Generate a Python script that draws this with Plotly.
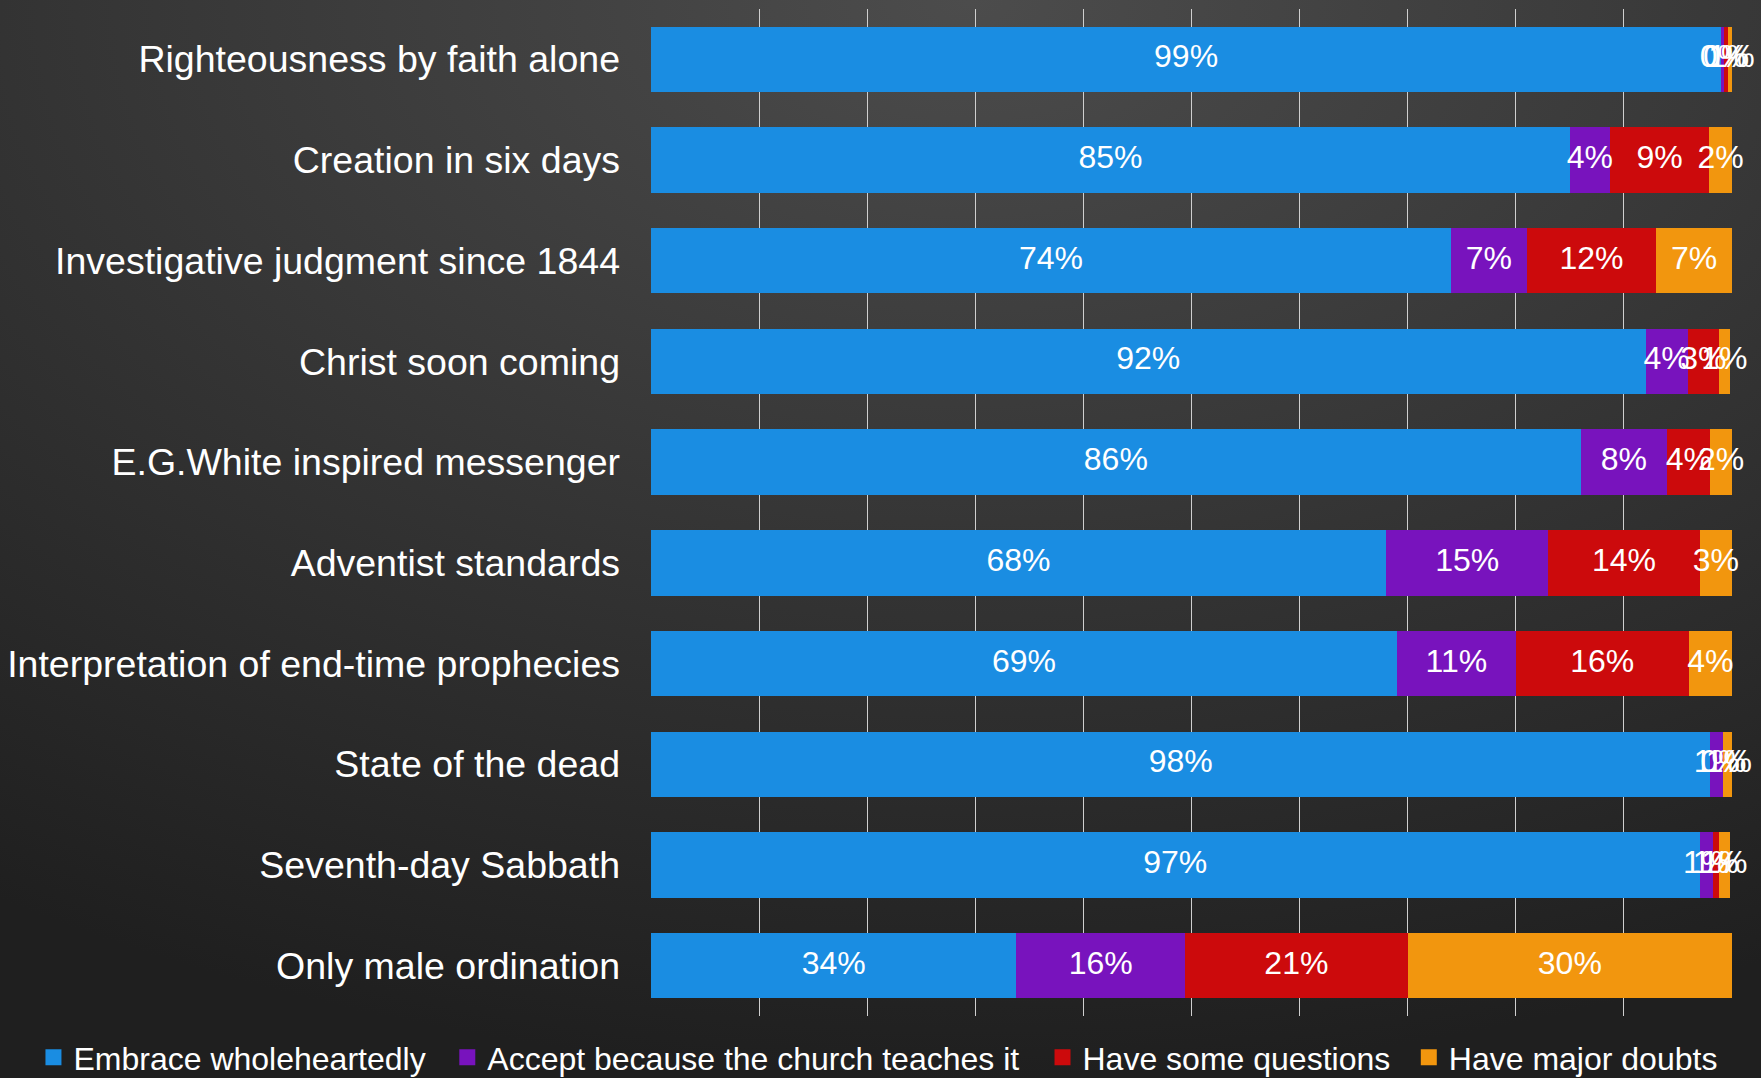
import base64
import plotly.graph_objects as go

categories = [
    "Righteousness by faith alone",
    "Creation in six days",
    "Investigative judgment since 1844",
    "Christ soon coming",
    "E.G.White inspired messenger",
    "Adventist standards",
    "Interpretation of end-time prophecies",
    "State of the dead",
    "Seventh-day Sabbath",
    "Only male ordination",
]
series_names = [
    "Embrace wholeheartedly",
    "Accept because the church teaches it",
    "Have some questions",
    "Have major doubts",
]
embrace = [99.0, 85.0, 74.0, 92.0, 86.0, 68.0, 69.0, 98.0, 97.0, 33.8]
accept = [0.3, 3.7, 7.0, 3.9, 8.0, 15.0, 11.0, 1.2, 1.2, 15.6]
questions = [0.3, 9.2, 12.0, 2.9, 4.0, 14.0, 16.0, 0.0, 0.6, 20.6]
doubts = [0.7, 2.1, 7.0, 1.0, 2.0, 3.0, 4.0, 1.0, 1.0, 30.0]
colors = ["#1a8de2", "#7813bd", "#cc0a0c", "#f2960e"]

W, H = 1761, 1078
FONT = "Liberation Sans, Arial, sans-serif"

# background gradient (decoration only)
svg = f"""<svg xmlns='http://www.w3.org/2000/svg' width='{W}' height='{H}' preserveAspectRatio='none'>
<defs><radialGradient id='g' cx='0.55' cy='0.0' r='1.0' fx='0.55' fy='0.0'>
<stop offset='0' stop-color='#4c4c4c'/><stop offset='0.55' stop-color='#333333'/>
<stop offset='1' stop-color='#1f1f1f'/></radialGradient></defs>
<rect width='{W}' height='{H}' fill='url(#g)'/></svg>"""
bg_src = "data:image/svg+xml;base64," + base64.b64encode(svg.encode()).decode()

all_series = [embrace, accept, questions, doubts]
legend_ids = ["legend", "legend2", "legend3", "legend4"]
legend_x = [0.019, 0.254, 0.592, 0.800]

fig = go.Figure()
for name, vals, col in zip(series_names, all_series, colors):
    fig.add_trace(go.Bar(
        y=categories, x=vals, name=name, orientation="h",
        marker=dict(color=col, line=dict(width=0)),
        textposition="none", hoverinfo="x+y", showlegend=False,
    ))

# value labels centred on each segment (full size, allowed to overlap)
base = [0.0] * len(categories)
for vals in all_series:
    mids = [b + v / 2 for b, v in zip(base, vals)]
    fig.add_trace(go.Scatter(
        x=mids, y=categories, mode="text",
        text=[f"{round(v):.0f}%" for v in vals],
        textposition="middle center",
        textfont=dict(color="white", size=32, family=FONT),
        showlegend=False, hoverinfo="skip", cliponaxis=False,
    ))
    base = [b + v for b, v in zip(base, vals)]

# legend entries (square swatches)
for name, col, lid in zip(series_names, colors, legend_ids):
    fig.add_trace(go.Scatter(
        x=[None], y=[None], mode="markers", name=name, legend=lid,
        marker=dict(symbol="square", size=18, color=col),
        showlegend=True, hoverinfo="skip",
    ))

legend_common = dict(orientation="h", xref="container", yref="container",
                     xanchor="left", y=0.019, yanchor="middle",
                     font=dict(size=32, color="white", family=FONT),
                     bgcolor="rgba(0,0,0,0)", itemwidth=30)
layout_legends = {lid: dict(legend_common, x=lx) for lid, lx in zip(legend_ids, legend_x)}

fig.update_layout(
    width=W, height=H,
    barmode="stack", bargap=0.35,
    paper_bgcolor="#2e2e2e", plot_bgcolor="rgba(0,0,0,0)",
    margin=dict(l=651, r=29, t=9, b=62, autoexpand=False),
    font=dict(family=FONT, color="white"),
    images=[dict(source=bg_src, xref="paper", yref="paper",
                 x=-651 / 1081, y=1 + 9 / 1007, sizex=W / 1081, sizey=H / 1007,
                 xanchor="left", yanchor="top", sizing="stretch", layer="below")],
    showlegend=True,
    **layout_legends,
)
fig.update_xaxes(range=[0, 100], dtick=10, showgrid=True, gridcolor="#cfcfcf",
                 gridwidth=1, showticklabels=False, zeroline=False, fixedrange=True)
fig.update_yaxes(autorange="reversed", showgrid=False, ticks="",
                 tickfont=dict(size=37.5, color="white", family=FONT),
                 ticklabelstandoff=30, showline=False)

fig.write_html("out.html", config={"displayModeBar": False},
               post_script="document.body.style.margin='0';document.body.style.padding='0';"
                           "document.body.style.overflow='hidden';")
